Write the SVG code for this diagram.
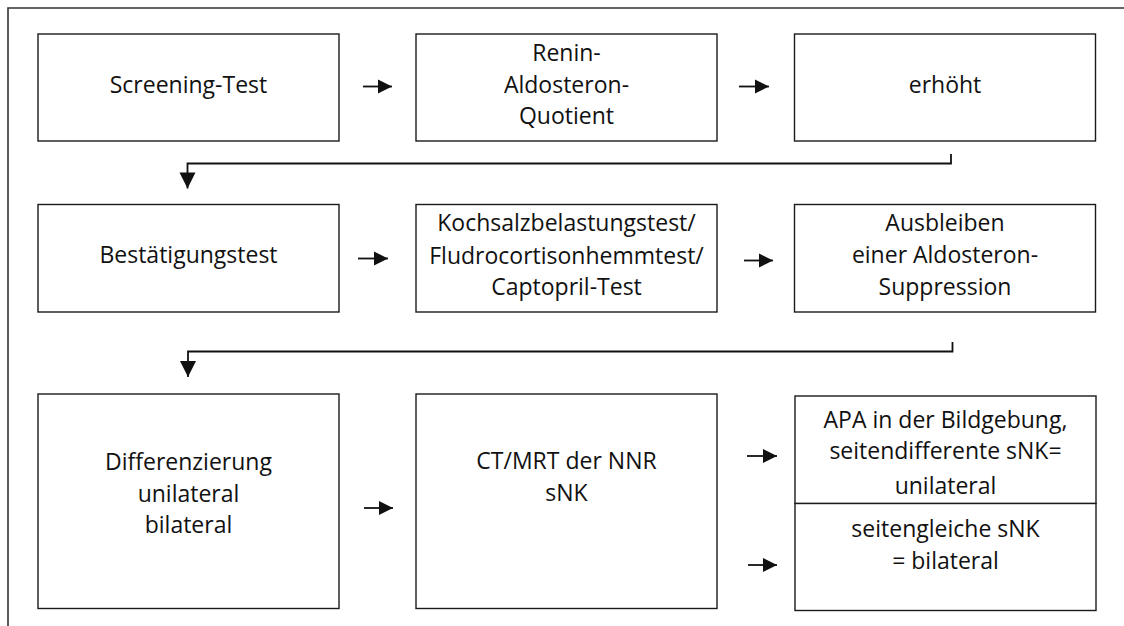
<svg xmlns="http://www.w3.org/2000/svg" width="1124" height="626" viewBox="0 0 1124 626">
  <style>
    .box { fill: #ffffff; stroke: #1a1a1a; stroke-width: 1.4; }
    .frame { fill: none; stroke: #333333; stroke-width: 1.6; }
    .lbl { font-family: "Open Sans", "Noto Sans", sans-serif; font-size: 23px; fill: #111111; text-anchor: middle; }
    .conn { fill: none; stroke: #111111; stroke-width: 1.8; }
  </style>
  <defs>
    <marker id="arrowH" markerUnits="userSpaceOnUse" markerWidth="16" markerHeight="16" refX="15" refY="8" orient="auto">
      <path d="M1,1 L15,8 L1,15 Z" fill="#111111"/>
    </marker>
    <marker id="arrowD" markerUnits="userSpaceOnUse" markerWidth="18" markerHeight="18" refX="17" refY="9" orient="auto">
      <path d="M1,1 L17,9 L1,17 Z" fill="#111111"/>
    </marker>
  </defs>

  <rect width="1124" height="626" fill="#ffffff"/>
  <!-- outer frame: only the left and top edges fall inside the page -->
  <path class="frame" d="M8,626 V8 H1124"/>

  <!-- row 1 -->
  <g id="screening">
    <rect class="box" x="38" y="34" width="301" height="107"/>
    <text class="lbl" x="188.5" y="93">Screening-Test</text>
  </g>
  <g id="quotient">
    <rect class="box" x="416" y="34" width="301" height="107"/>
    <text class="lbl" x="566.5" y="61">Renin-</text>
    <text class="lbl" x="566.5" y="93">Aldosteron-</text>
    <text class="lbl" x="566.5" y="124">Quotient</text>
  </g>
  <g id="erhoeht">
    <rect class="box" x="794.5" y="34" width="301" height="107"/>
    <text class="lbl" x="945" y="93">erhöht</text>
  </g>

  <!-- row 2 -->
  <g id="bestaetigung">
    <rect class="box" x="38" y="204.5" width="301" height="107.5"/>
    <text class="lbl" x="188.5" y="263">Bestätigungstest</text>
  </g>
  <g id="tests">
    <rect class="box" x="416" y="204.5" width="301" height="107.5"/>
    <text class="lbl" x="566.5" y="231">Kochsalzbelastungstest/</text>
    <text class="lbl" x="566.5" y="264">Fludrocortisonhemmtest/</text>
    <text class="lbl" x="566.5" y="295">Captopril-Test</text>
  </g>
  <g id="suppression">
    <rect class="box" x="794.5" y="204.5" width="301" height="107.5"/>
    <text class="lbl" x="945" y="231">Ausbleiben</text>
    <text class="lbl" x="945" y="263">einer Aldosteron-</text>
    <text class="lbl" x="945" y="295">Suppression</text>
  </g>

  <!-- row 3 -->
  <g id="differenzierung">
    <rect class="box" x="38" y="394" width="301" height="214.5"/>
    <text class="lbl" x="188.5" y="470">Differenzierung</text>
    <text class="lbl" x="188.5" y="501.5">unilateral</text>
    <text class="lbl" x="188.5" y="533">bilateral</text>
  </g>
  <g id="bildgebung">
    <rect class="box" x="416" y="394" width="301" height="214.5"/>
    <text class="lbl" x="566.5" y="469">CT/MRT der NNR</text>
    <text class="lbl" x="566.5" y="500.5">sNK</text>
  </g>
  <g id="unilateral">
    <rect class="box" x="795" y="396" width="301" height="107.5"/>
    <text class="lbl" x="945.5" y="428">APA in der Bildgebung,</text>
    <text class="lbl" x="945.5" y="459">seitendifferente sNK=</text>
    <text class="lbl" x="945.5" y="494">unilateral</text>
  </g>
  <g id="bilateral">
    <rect class="box" x="795" y="503.5" width="301" height="107"/>
    <text class="lbl" x="945.5" y="537">seitengleiche sNK</text>
    <text class="lbl" x="945.5" y="568.5">= bilateral</text>
  </g>

  <!-- connectors -->
  <g id="connectors">
    <path class="conn" marker-end="url(#arrowH)" d="M363,86.5 H392"/>
    <path class="conn" marker-end="url(#arrowH)" d="M739,86.5 H769"/>
    <path class="conn" marker-end="url(#arrowH)" d="M358,258.5 H388"/>
    <path class="conn" marker-end="url(#arrowH)" d="M744,260.5 H773"/>
    <path class="conn" marker-end="url(#arrowH)" d="M364,508 H393"/>
    <path class="conn" marker-end="url(#arrowH)" d="M747,456 H777"/>
    <path class="conn" marker-end="url(#arrowH)" d="M748,565 H777"/>
    <path class="conn" marker-end="url(#arrowD)" d="M951,154 V163.5 H187.5 V188.5"/>
    <path class="conn" marker-end="url(#arrowD)" d="M952.5,342 V351.5 H188 V377"/>
  </g>
</svg>
